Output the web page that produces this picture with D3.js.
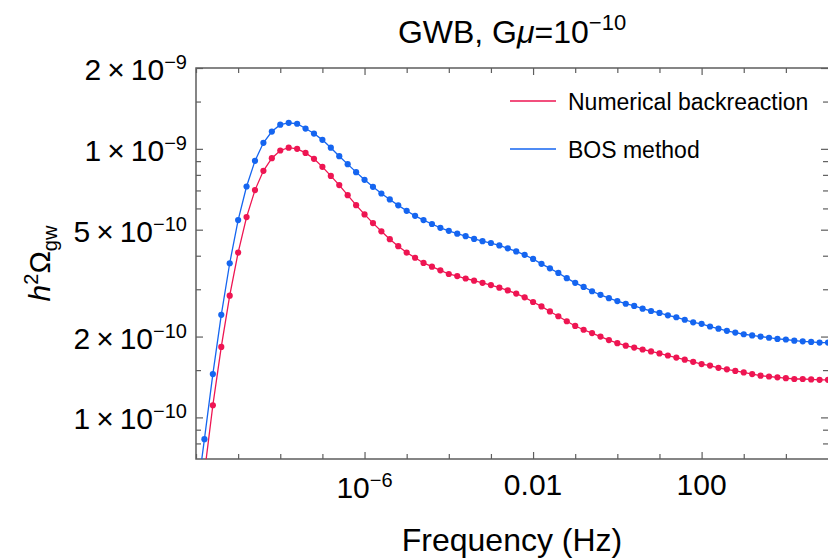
<!DOCTYPE html>
<html>
<head>
<meta charset="utf-8">
<script src="https://cdn.jsdelivr.net/npm/d3@7"></script>
<style>
  body { margin: 0; background: #fff; }
  text { font-family: "Liberation Sans", Arial, sans-serif; fill: #000; }
</style>
</head>
<body>
<script>
// log10 of frequency (Hz) for every sample
const logFreq = [
  -10, -9.8, -9.6, -9.4, -9.2, -9, -8.8, -8.6, -8.4, -8.2,
  -8, -7.8, -7.6, -7.4, -7.2, -7, -6.8, -6.6, -6.4, -6.2,
  -6, -5.8, -5.6, -5.4, -5.2, -5, -4.8, -4.6, -4.4, -4.2,
  -4, -3.8, -3.6, -3.4, -3.2, -3, -2.8, -2.6, -2.4, -2.2,
  -2, -1.8, -1.6, -1.4, -1.2, -1, -0.8, -0.6, -0.4, -0.2,
  0, 0.2, 0.4, 0.6, 0.8, 1, 1.2, 1.4, 1.6, 1.8,
  2, 2.2, 2.4, 2.6, 2.8, 3, 3.2, 3.4, 3.6, 3.8,
  4, 4.2, 4.4, 4.6, 4.8, 5
];

// h^2 Omega_gw, in units of 1e-10
const numerical = [
  0.335, 0.62, 1.11, 1.83, 2.84, 4.11, 5.57, 7.02, 8.28, 9.23,
  9.86, 10.1, 10.0, 9.66, 9.18, 8.57, 7.93, 7.33, 6.72, 6.17,
  5.70, 5.29, 4.93, 4.61, 4.34, 4.11, 3.93, 3.76, 3.64, 3.53,
  3.42, 3.36, 3.29, 3.23, 3.17, 3.11, 3.04, 2.97, 2.89, 2.80,
  2.69, 2.59, 2.48, 2.38, 2.28, 2.19, 2.12, 2.06, 2.00, 1.94,
  1.89, 1.85, 1.82, 1.79, 1.76, 1.73, 1.70, 1.67, 1.64, 1.61,
  1.58, 1.56, 1.53, 1.51, 1.49, 1.47, 1.45, 1.43, 1.42, 1.41,
  1.40, 1.39, 1.39, 1.385, 1.38, 1.38
];
const bos = [
  0.48, 0.83, 1.45, 2.41, 3.75, 5.43, 7.24, 9.02, 10.53, 11.6,
  12.3, 12.5, 12.4, 11.9, 11.4, 10.8, 10.1, 9.39, 8.77, 8.19,
  7.67, 7.22, 6.82, 6.48, 6.16, 5.88, 5.63, 5.43, 5.25, 5.08,
  4.95, 4.83, 4.73, 4.62, 4.53, 4.46, 4.37, 4.26, 4.15, 4.03,
  3.89, 3.73, 3.59, 3.45, 3.30, 3.17, 3.06, 2.95, 2.86, 2.78,
  2.71, 2.65, 2.60, 2.54, 2.49, 2.45, 2.40, 2.36, 2.31, 2.26,
  2.23, 2.18, 2.14, 2.10, 2.07, 2.04, 2.02, 2.00, 1.98, 1.96,
  1.95, 1.93, 1.92, 1.91, 1.90, 1.90
];

const seriesNames = ["Numerical backreaction", "BOS method"];
const seriesColors = ["#ee1552", "#1565f0"];

// x ticks: labelled (major) and every decade (minor)
const xMajor = [1e-6, 1e-2, 1e2];
const xMajorLabels = [["10", "\u22126"], ["0.01", ""], ["100", ""]];
const xMinor = [1e-10, 1e-9, 1e-8, 1e-7, 1e-5, 1e-4, 1e-3, 1e-1, 1, 10, 1e3, 1e4];

// y ticks
const yMajor = [1e-10, 2e-10, 5e-10, 1e-9, 2e-9];
const yMajorLabels = [["1", "\u221210"], ["2", "\u221210"], ["5", "\u221210"], ["1", "\u22129"], ["2", "\u22129"]];
const yMinor = [8e-11, 9e-11, 1.5e-10, 3e-10, 4e-10, 6e-10, 7e-10, 8e-10, 9e-10, 1.5e-9];

var width = 828, height = 559,
    plotL = 196, plotR = 828, plotT = 68, plotB = 459,
    frameColor = "#5e5e5e";

var svg = d3.select("body").append("svg")
    .attr("width", width)
    .attr("height", height);

var x = d3.scaleLog().domain([1e-10, 1e5]).range([plotL, plotR]);
var y = d3.scaleLog().domain([7e-11, 2e-9]).range([plotB, plotT]);

// ticks on all four sides, pointing inward
function ticks(axisFn, values, size, transform) {
  svg.append("g")
    .attr("transform", transform)
    .call(axisFn.tickValues(values).tickSize(-size).tickSizeOuter(0).tickFormat(""))
    .call(g => g.select(".domain").remove())
    .selectAll("line")
    .attr("stroke", frameColor)
    .attr("stroke-width", 1.2);
}
ticks(d3.axisBottom(x), xMinor, 5, `translate(0,${plotB})`);
ticks(d3.axisBottom(x), xMajor, 7, `translate(0,${plotB})`);
ticks(d3.axisTop(x), xMinor, 5, `translate(0,${plotT})`);
ticks(d3.axisTop(x), xMajor, 7, `translate(0,${plotT})`);
ticks(d3.axisLeft(y), yMinor, 5, `translate(${plotL},0)`);
ticks(d3.axisLeft(y), yMajor, 7, `translate(${plotL},0)`);
ticks(d3.axisRight(y), yMinor, 5, `translate(${plotR},0)`);
ticks(d3.axisRight(y), yMajor, 7, `translate(${plotR},0)`);

// frame
svg.append("path")
  .attr("d", `M${plotR},${plotT}H${plotL}V${plotB}H${plotR}`)
  .attr("fill", "none")
  .attr("stroke", frameColor)
  .attr("stroke-width", 1.5);

// tick labels
xMajor.forEach(function (v, i) {
  const t = svg.append("text")
    .attr("x", x(v))
    .attr("y", xMajorLabels[i][1] ? 498 : 495)
    .attr("text-anchor", "middle")
    .attr("font-size", 30);
  t.append("tspan").text(xMajorLabels[i][0]);
  if (xMajorLabels[i][1]) {
    t.append("tspan").attr("dy", -11).attr("font-size", 20).text(xMajorLabels[i][1]);
  }
});

yMajor.forEach(function (v, i) {
  const t = svg.append("text")
    .attr("x", 187)
    .attr("y", y(v) + 12)
    .attr("text-anchor", "end")
    .attr("font-size", 30);
  t.append("tspan").text(yMajorLabels[i][0] + "\u2009\u00d7\u200910");
  t.append("tspan").attr("dy", -11).attr("font-size", 20).text(yMajorLabels[i][1]);
});

// data
svg.append("clipPath").attr("id", "plot-clip")
  .append("rect")
  .attr("x", plotL).attr("y", plotT)
  .attr("width", plotR - plotL).attr("height", plotB - plotT);

var plot = svg.append("g").attr("clip-path", "url(#plot-clip)");

var line = d3.line()
  .x(d => x(d[0]))
  .y(d => y(d[1]));

[numerical, bos].forEach(function (vals, s) {
  const pts = vals.map((v, i) => [Math.pow(10, logFreq[i]), v * 1e-10]);
  plot.append("path")
    .datum(pts)
    .attr("d", line)
    .attr("fill", "none")
    .attr("stroke", seriesColors[s])
    .attr("stroke-width", 1.3);
  plot.selectAll(null)
    .data(pts)
    .enter()
    .append("circle")
    .attr("cx", d => x(d[0]))
    .attr("cy", d => y(d[1]))
    .attr("r", 3.1)
    .attr("fill", seriesColors[s]);
});

// legend
seriesNames.forEach(function (name, i) {
  const ly = 101 + i * 48;
  svg.append("line")
    .attr("x1", 510).attr("x2", 556)
    .attr("y1", ly).attr("y2", ly)
    .attr("stroke", seriesColors[i])
    .attr("stroke-width", 1.5);
  svg.append("text")
    .attr("x", 568)
    .attr("y", ly + 9)
    .attr("font-size", 23)
    .text(name);
});

// title
var title = svg.append("text")
  .attr("x", (plotL + plotR) / 2)
  .attr("y", 43)
  .attr("text-anchor", "middle")
  .attr("font-size", 32);
title.append("tspan").text("GWB, G");
title.append("tspan").attr("font-style", "italic").text("\u03bc");
title.append("tspan").text("=10");
title.append("tspan").attr("dy", -13).attr("font-size", 22).text("\u221210");

// axis labels
svg.append("text")
  .attr("x", (plotL + plotR) / 2)
  .attr("y", 551)
  .attr("text-anchor", "middle")
  .attr("font-size", 32)
  .text("Frequency (Hz)");

var ylab = svg.append("text")
  .attr("transform", `translate(50,${(plotT + plotB) / 2}) rotate(-90)`)
  .attr("text-anchor", "middle")
  .attr("font-size", 30);
ylab.append("tspan").attr("font-style", "italic").text("h");
ylab.append("tspan").attr("dy", -12).attr("font-size", 20).text("2");
ylab.append("tspan").attr("dy", 12).text("\u03a9");
ylab.append("tspan").attr("dy", 7).attr("font-size", 20).text("gw");
</script>
</body>
</html>
